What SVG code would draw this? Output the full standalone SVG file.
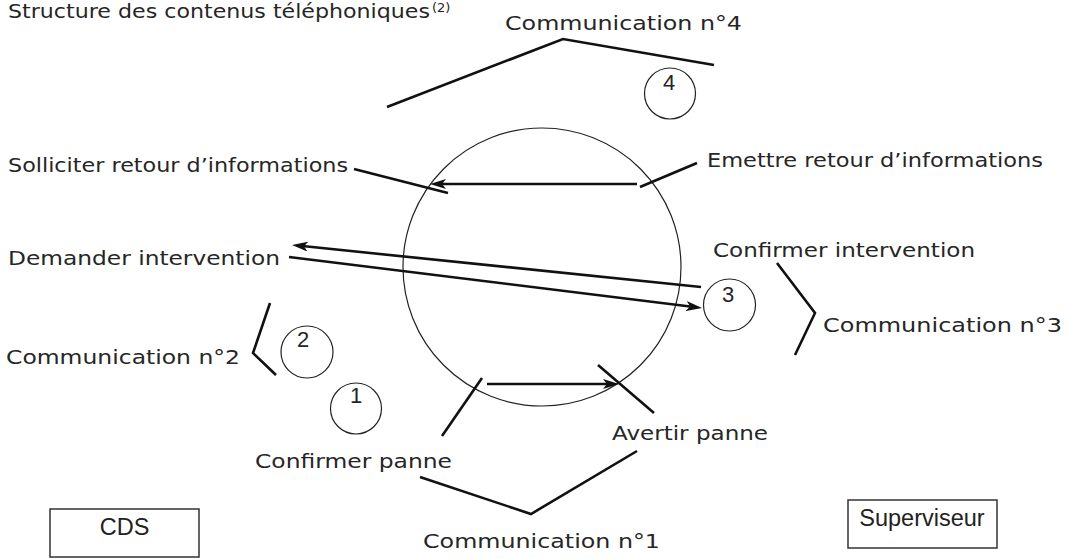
<svg xmlns="http://www.w3.org/2000/svg" width="1067" height="559" viewBox="0 0 1067 559">
<style>
.lbl{font-family:"DejaVu Sans","Liberation Sans",sans-serif;font-size:20px;fill:#262626}
.num{font-family:"Liberation Sans",Arial,sans-serif;font-size:22px;fill:#262626;text-anchor:middle}
.box{fill:#fff;stroke:#333;stroke-width:1.5}
.boxt{font-family:"Liberation Sans",Arial,sans-serif;font-size:23.5px;fill:#222;text-anchor:middle}
.ring{fill:none;stroke:#222;stroke-width:1.2}
.ln{fill:none;stroke:#111;stroke-width:2.6}
.ar{fill:none;stroke:#111;stroke-width:2.6;marker-end:url(#arr)}
</style>
<defs>
<marker id="arr" viewBox="0 0 16 10" refX="8" refY="5" markerWidth="16" markerHeight="10" markerUnits="userSpaceOnUse" orient="auto">
<path d="M0,0 L16,5 L0,10 L4,5 z" fill="#111"/>
</marker>
</defs>
<rect width="1067" height="559" fill="#fff"/>

<g id="title">
<text class="lbl" x="8" y="18" textLength="422" lengthAdjust="spacingAndGlyphs" style="font-size:19.5px">Structure des contenus téléphoniques</text>
<text class="lbl" x="432" y="12" style="font-size:13px">(2)</text>
</g>

<g id="cycle"><circle class="ring" cx="542" cy="267" r="139"/></g>

<g id="c4"><circle class="ring" cx="670" cy="93.5" r="25.5"/><text class="num" x="669" y="90">4</text></g>
<g id="c3"><circle class="ring" cx="729.5" cy="305" r="26"/><text class="num" x="728" y="302">3</text></g>
<g id="c2"><circle class="ring" cx="307" cy="352" r="26"/><text class="num" x="303" y="347">2</text></g>
<g id="c1"><circle class="ring" cx="356" cy="408.5" r="25.5"/><text class="num" x="356" y="403">1</text></g>

<g id="lbl-comm4"><text class="lbl" x="505" y="30" textLength="237" lengthAdjust="spacingAndGlyphs">Communication n°4</text></g>
<g id="lbl-solliciter"><text class="lbl" x="8" y="172" textLength="340" lengthAdjust="spacingAndGlyphs">Solliciter retour d’informations</text></g>
<g id="lbl-emettre"><text class="lbl" x="707" y="167" textLength="336" lengthAdjust="spacingAndGlyphs">Emettre retour d’informations</text></g>
<g id="lbl-demander"><text class="lbl" x="8" y="265" textLength="272" lengthAdjust="spacingAndGlyphs">Demander intervention</text></g>
<g id="lbl-confint"><text class="lbl" x="713" y="257" textLength="262" lengthAdjust="spacingAndGlyphs">Confirmer intervention</text></g>
<g id="lbl-comm3"><text class="lbl" x="823" y="332" textLength="239" lengthAdjust="spacingAndGlyphs">Communication n°3</text></g>
<g id="lbl-comm2"><text class="lbl" x="6" y="364" textLength="234" lengthAdjust="spacingAndGlyphs">Communication n°2</text></g>
<g id="lbl-confpanne"><text class="lbl" x="255" y="468" textLength="197" lengthAdjust="spacingAndGlyphs">Confirmer panne</text></g>
<g id="lbl-avertir"><text class="lbl" x="612" y="440" textLength="156" lengthAdjust="spacingAndGlyphs">Avertir panne</text></g>
<g id="lbl-comm1"><text class="lbl" x="423" y="548" textLength="237" lengthAdjust="spacingAndGlyphs">Communication n°1</text></g>

<g id="cds"><rect class="box" x="50" y="509" width="149" height="48"/><text class="boxt" x="124.5" y="535">CDS</text></g>
<g id="superviseur"><rect class="box" x="848" y="500" width="149" height="48"/><text class="boxt" x="922" y="526">Superviseur</text></g>

<g id="connectors">
<polyline class="ln" points="387,107 563,39 714,65"/>
<line class="ln" x1="354" y1="169" x2="448" y2="193"/>
<line class="ar" x1="637" y1="184" x2="438" y2="184"/>
<line class="ln" x1="640" y1="187" x2="697" y2="163"/>
<line class="ar" x1="701" y1="287" x2="300" y2="245.8"/>
<line class="ar" x1="289" y1="257" x2="694.1" y2="307"/>
<polyline class="ln" points="777,263 815,313 795,355"/>
<polyline class="ln" points="270,303 253,353 276,375"/>
<line class="ln" x1="482" y1="378" x2="442" y2="436"/>
<line class="ar" x1="487" y1="384" x2="611" y2="384"/>
<line class="ln" x1="598" y1="365" x2="654" y2="413"/>
<polyline class="ln" points="420,477 531,514 637,451"/>
</g>
</svg>
